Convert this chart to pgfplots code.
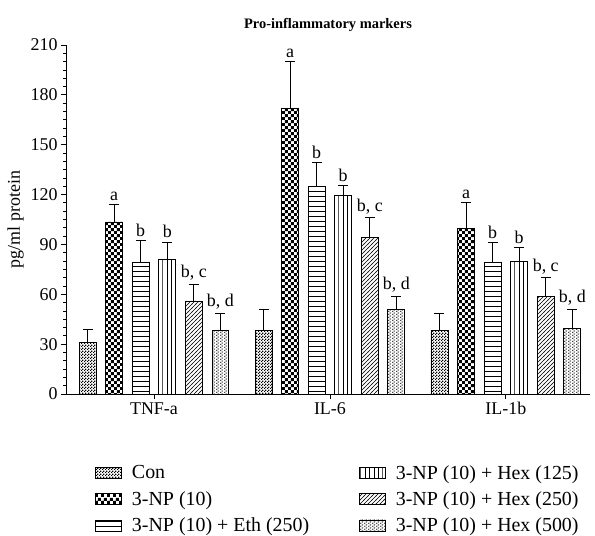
\documentclass[border=0pt]{standalone}
\usepackage{fontspec}
\setmainfont{Liberation Serif}
\usepackage{pgfplots}
\pgfplotsset{compat=1.18}
\usepackage{pgfplotstable}
\usetikzlibrary{patterns}

\pgfdeclarepatternformonly{finecheck}{\pgfpointorigin}{\pgfqpoint{3bp}{3bp}}{\pgfqpoint{3bp}{3bp}}{%
  \pgfpathrectangle{\pgfpointorigin}{\pgfqpoint{1.5bp}{1.5bp}}%
  \pgfpathrectangle{\pgfqpoint{1.5bp}{1.5bp}}{\pgfqpoint{1.5bp}{1.5bp}}%
  \pgfusepath{fill}}
\pgfdeclarepatternformonly{bigcheck}{\pgfpointorigin}{\pgfqpoint{6.4bp}{6.4bp}}{\pgfqpoint{6.4bp}{6.4bp}}{%
  \pgfpathrectangle{\pgfpointorigin}{\pgfqpoint{3.2bp}{3.2bp}}%
  \pgfpathrectangle{\pgfqpoint{3.2bp}{3.2bp}}{\pgfqpoint{3.2bp}{3.2bp}}%
  \pgfusepath{fill}}
\pgfdeclarepatternformonly{hlin}{\pgfqpoint{0bp}{-0.5bp}}{\pgfqpoint{5bp}{4.5bp}}{\pgfqpoint{5bp}{5bp}}{%
  \pgfsetlinewidth{0.8bp}%
  \pgfpathmoveto{\pgfqpoint{0bp}{0bp}}\pgfpathlineto{\pgfqpoint{5bp}{0bp}}\pgfusepath{stroke}}
\pgfdeclarepatternformonly{vlin}{\pgfqpoint{-0.5bp}{0bp}}{\pgfqpoint{4bp}{4.4bp}}{\pgfqpoint{4.4bp}{4.4bp}}{%
  \pgfsetlinewidth{0.8bp}%
  \pgfpathmoveto{\pgfqpoint{0bp}{0bp}}\pgfpathlineto{\pgfqpoint{0bp}{4.4bp}}\pgfusepath{stroke}}
\pgfdeclarepatternformonly{diag}{\pgfqpoint{-0.5bp}{-0.5bp}}{\pgfqpoint{4.5bp}{4.5bp}}{\pgfqpoint{4bp}{4bp}}{%
  \pgfsetlinewidth{0.6bp}%
  \pgfpathmoveto{\pgfqpoint{-0.5bp}{-0.5bp}}\pgfpathlineto{\pgfqpoint{4.5bp}{4.5bp}}\pgfusepath{stroke}}
\pgfdeclarepatternformonly{wavy}{\pgfpointorigin}{\pgfqpoint{4bp}{3.2bp}}{\pgfqpoint{4bp}{3.2bp}}{%
  \pgfsetlinewidth{0.5bp}%
  \pgfpathmoveto{\pgfqpoint{0.2bp}{1.4bp}}\pgfpathlineto{\pgfqpoint{1bp}{0.5bp}}\pgfpathlineto{\pgfqpoint{1.8bp}{1.4bp}}%
  \pgfpathmoveto{\pgfqpoint{2.2bp}{3bp}}\pgfpathlineto{\pgfqpoint{3bp}{2.1bp}}\pgfpathlineto{\pgfqpoint{3.8bp}{3bp}}%
  \pgfusepath{stroke}}

\pgfplotstableread{
x y e lab
0 31 7.6 {}
1 38 13 {}
2 38 10.5 {}
}\tcon
\pgfplotstableread{
x y e lab
0 103.5 10.5 a
1 172 28 a
2 99.7 15.5 a
}\tnp
\pgfplotstableread{
x y e lab
0 79 13.5 b
1 125 14.5 b
2 79 12 b
}\teth
\pgfplotstableread{
x y e lab
0 81 10.5 b
1 119.5 5.8 b
2 79.5 8.8 b
}\thA
\pgfplotstableread{
x y e lab
0 56 10 {b, c}
1 94 12 {b, c}
2 58.5 11.5 {b, c}
}\thB
\pgfplotstableread{
x y e lab
0 38 10.4 {b, d}
1 51 8 {b, d}
2 39.5 11.5 {b, d}
}\thC

\pgfplotsset{
  eb/.style={error bars/.cd, y dir=plus, y explicit,
    error bar style={line width=0.8bp, black, solid},
    error mark options={line width=0.8bp, mark size=5bp, black, rotate=90}},
  lbl/.style={draw=none, fill=none, forget plot,
    nodes near coords, point meta=explicit symbolic,
    nodes near coords style={font=\fontsize{18}{21}\selectfont, anchor=south, inner sep=1bp, yshift=2.5bp, black}},
}

\begin{document}
\begin{tikzpicture}
\path[use as bounding box] (-66bp,-142bp) rectangle (529bp,394bp);
\begin{axis}[
  scale only axis, width=524bp, height=349bp,
  xmin=-0.5, xmax=2.478, ymin=0, ymax=210,
  axis lines=left, axis line style={-, line width=0.8bp},
  ytick={0,30,...,210}, minor y tick num=5,
  xtick={0,1,2}, xticklabels={TNF-a, IL-6, IL-1b},
  tick align=outside, major tick length=5bp, minor tick length=3bp,
  tick style={black, line width=0.8bp},
  every tick label/.append style={font=\fontsize{18}{21}\selectfont},
  /pgf/number format/assume math mode=true,
  ylabel={pg/ml protein},
  ylabel style={font=\fontsize{18}{21}\selectfont},
  title={\bfseries Pro-inflammatory markers},
  title style={font=\fontsize{14.5}{17}\selectfont, yshift=4bp},
  ybar, bar width=0.0965,
  legend image code/.code={\draw[#1, draw=black, line width=0.6bp] (0bp,-5.5bp) rectangle (26bp,5.5bp);},
  legend columns=3, transpose legend,
  legend cell align=left,
  legend style={draw=none, at={(axis description cs:0.05,-0.192)}, anchor=north west,
    font=\fontsize{20}{23}\selectfont, row sep=7bp,
    /tikz/every odd column/.append style={column sep=8bp},
    /tikz/every even column/.append style={column sep=48bp}},
  every axis plot/.append style={line width=0.8bp, draw=black},
]
\addplot[pattern=finecheck, bar shift=-0.3775, eb] table[x=x, y=y, y error=e] {\tcon};
\addlegendentry{Con}
\addplot[pattern=bigcheck, bar shift=-0.2265, eb] table[x=x, y=y, y error=e] {\tnp};
\addlegendentry{3-NP (10)}
\addplot[pattern=hlin, bar shift=-0.0755, eb] table[x=x, y=y, y error=e] {\teth};
\addlegendentry{3-NP (10) + Eth (250)}
\addplot[pattern=vlin, bar shift=0.0755, eb] table[x=x, y=y, y error=e] {\thA};
\addlegendentry{3-NP (10) + Hex (125)}
\addplot[pattern=diag, bar shift=0.2265, eb] table[x=x, y=y, y error=e] {\thB};
\addlegendentry{3-NP (10) + Hex (250)}
\addplot[pattern=wavy, bar shift=0.3775, eb] table[x=x, y=y, y error=e] {\thC};
\addlegendentry{3-NP (10) + Hex (500)}

\addplot[lbl, bar shift=-0.2265] table[x=x, y expr=\thisrow{y}+\thisrow{e}, meta=lab] {\tnp};
\addplot[lbl, bar shift=-0.0755] table[x=x, y expr=\thisrow{y}+\thisrow{e}, meta=lab] {\teth};
\addplot[lbl, bar shift=0.0755] table[x=x, y expr=\thisrow{y}+\thisrow{e}, meta=lab] {\thA};
\addplot[lbl, bar shift=0.2265] table[x=x, y expr=\thisrow{y}+\thisrow{e}, meta=lab] {\thB};
\addplot[lbl, bar shift=0.3775] table[x=x, y expr=\thisrow{y}+\thisrow{e}, meta=lab] {\thC};
\end{axis}
\end{tikzpicture}
\end{document}
